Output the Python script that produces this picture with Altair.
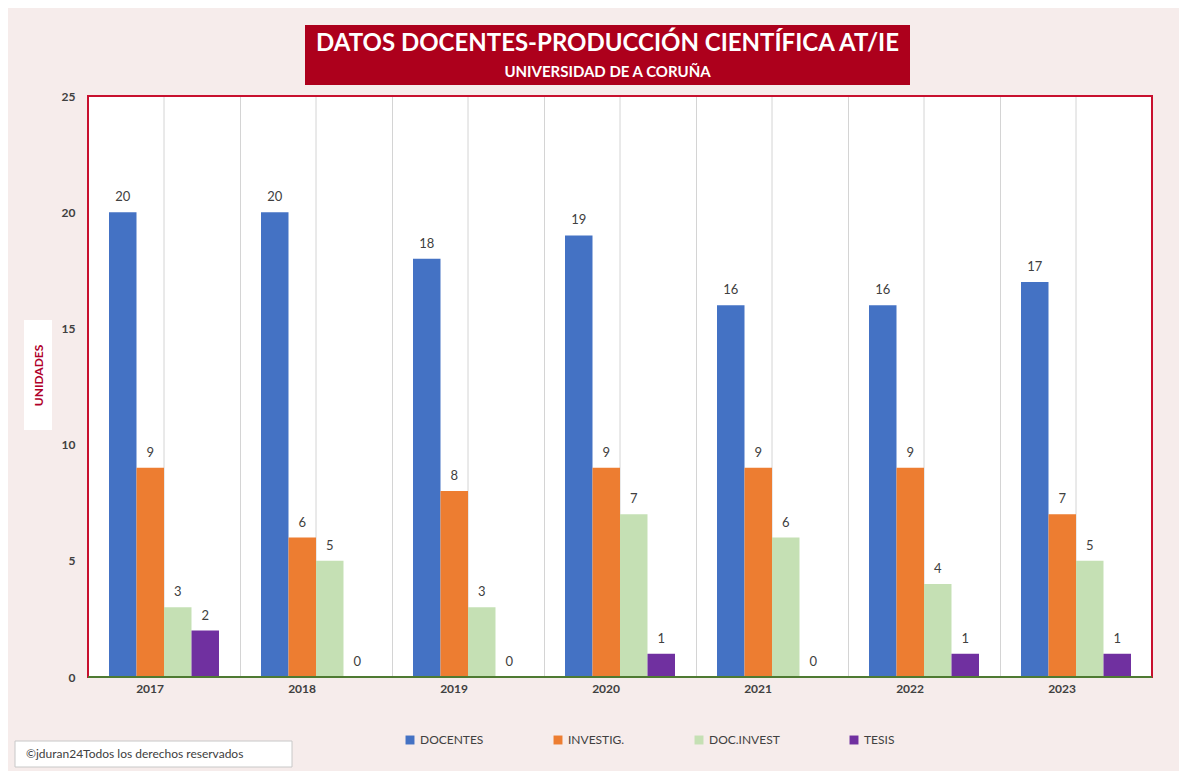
import altair as alt
import pandas as pd

years = ["2017", "2018", "2019", "2020", "2021", "2022", "2023"]
series = ["DOCENTES", "INVESTIG.", "DOC.INVEST", "TESIS"]
docentes = [20, 20, 18, 19, 16, 16, 17]
investig = [9, 6, 8, 9, 9, 9, 7]
docinvest = [3, 5, 3, 7, 6, 4, 5]
tesis = [2, 0, 0, 1, 0, 1, 1]
colors = ["#4472C4", "#ED7D31", "#C5E0B4", "#7030A0"]
y_ticks = [0, 5, 10, 15, 20, 25]
title_text = "DATOS DOCENTES-PRODUCCIÓN CIENTÍFICA AT/IE"
subtitle_text = "UNIVERSIDAD DE A CORUÑA"
y_title = "UNIDADES"
copyright_text = "©jduran24Todos los derechos reservados"

rows = []
for s, vals in zip(series, [docentes, investig, docinvest, tesis]):
    for yr, v in zip(years, vals):
        rows.append({"year": yr, "series": s, "value": v})
df = pd.DataFrame(rows)

W, H = 1064, 581
FONT = "Lato"
TXT = "#404040"

x_enc = alt.X("year:N", sort=years,
              scale=alt.Scale(paddingInner=0, paddingOuter=0),
              axis=alt.Axis(title=None, grid=True, bandPosition=0, gridColor="#D4D4D4",
                            domain=False, ticks=False, labelPadding=11, labelAngle=0,
                            labelFont=FONT, labelFontSize=12, labelFontWeight="bold",
                            labelColor=TXT))
xo_enc = alt.XOffset("series:N", sort=series,
                     scale=alt.Scale(paddingOuter=0.764, paddingInner=0))
y_enc = alt.Y("value:Q", scale=alt.Scale(domain=[0, 25], nice=False),
              axis=alt.Axis(values=y_ticks, grid=False, domain=False, ticks=False,
                            labelPadding=13, labelFont=FONT, labelFontSize=12,
                            labelFontWeight="bold", labelColor=TXT,
                            title=y_title, titleAngle=270, titleX=-50, titleY=279,
                            titleAlign="center", titleBaseline="middle",
                            titleColor="#B0002A", titleFont=FONT, titleFontSize=12,
                            titleFontWeight="bold", zindex=1))
color_enc = alt.Color("series:N", sort=series,
                      scale=alt.Scale(domain=series, range=colors),
                      legend=alt.Legend(title=None, orient="none", direction="horizontal",
                                        legendX=316, legendY=638, columns=4,
                                        columnPadding=68, symbolType="square",
                                        symbolSize=80, symbolStrokeWidth=0,
                                        labelFont=FONT, labelFontSize=12,
                                        labelColor=TXT, symbolOffset=0))

base = alt.Chart(df)

center_rules = alt.Chart(pd.DataFrame({"year": years})).mark_rule(
    color="#D4D4D4", strokeWidth=1).encode(
    x=alt.X("year:N", sort=years), y=alt.value(0), y2=alt.value(H))

bars = base.mark_bar().encode(x=x_enc, xOffset=xo_enc, y=y_enc, color=color_enc)

labels = base.mark_text(dy=-11, baseline="alphabetic", font=FONT, fontSize=13,
                        color=TXT).encode(
    x=alt.X("year:N", sort=years), xOffset=xo_enc, y="value:Q", text="value:Q")

deco = pd.DataFrame({"k": [0]})

border = alt.Chart(deco).mark_rect(fill=None, stroke="#C8102E", strokeWidth=2).encode(
    x=alt.value(0), x2=alt.value(W), y=alt.value(0), y2=alt.value(H))

bottom_line = alt.Chart(deco).mark_rule(color="#4E7A32", strokeWidth=2).encode(
    x=alt.value(0), x2=alt.value(W), y=alt.value(H))

title_box = alt.Chart(deco).mark_rect(fill="#AD001C").encode(
    x=alt.value(217), x2=alt.value(822), y=alt.value(-71), y2=alt.value(-11))

title_mark = alt.Chart(pd.DataFrame({"t": [title_text]})).mark_text(
    font=FONT, fontSize=24, fontWeight="bold", color="white", align="center",
    baseline="middle").encode(x=alt.value(519.5), y=alt.value(-52), text="t:N")

subtitle_mark = alt.Chart(pd.DataFrame({"t": [subtitle_text]})).mark_text(
    font=FONT, fontSize=15, fontWeight="bold", color="white", align="center",
    baseline="middle").encode(x=alt.value(519.5), y=alt.value(-24), text="t:N")

ytitle_box = alt.Chart(deco).mark_rect(fill="white").encode(
    x=alt.value(-64), x2=alt.value(-36), y=alt.value(224), y2=alt.value(334))

copy_box = alt.Chart(deco).mark_rect(fill="white", stroke="#C8C8C8", strokeWidth=1).encode(
    x=alt.value(-73), x2=alt.value(204), y=alt.value(645), y2=alt.value(671))

copy_text = alt.Chart(pd.DataFrame({"t": [copyright_text]})).mark_text(
    font=FONT, fontSize=12, color=TXT, align="left", baseline="middle").encode(
    x=alt.value(-62), y=alt.value(658), text="t:N")

chart = alt.layer(
    center_rules, bars, labels, border, bottom_line, title_box, title_mark,
    subtitle_mark, ytitle_box, copy_box, copy_text
).properties(
    width=W, height=H,
    autosize=alt.AutoSizeParams(type="none"),
    padding={"left": 80, "top": 88, "right": 27, "bottom": 95},
    background="#F6ECEB"
).configure_view(stroke=None, fill="white")

chart.save("out.html", embed_options={"renderer": "svg", "actions": False})
